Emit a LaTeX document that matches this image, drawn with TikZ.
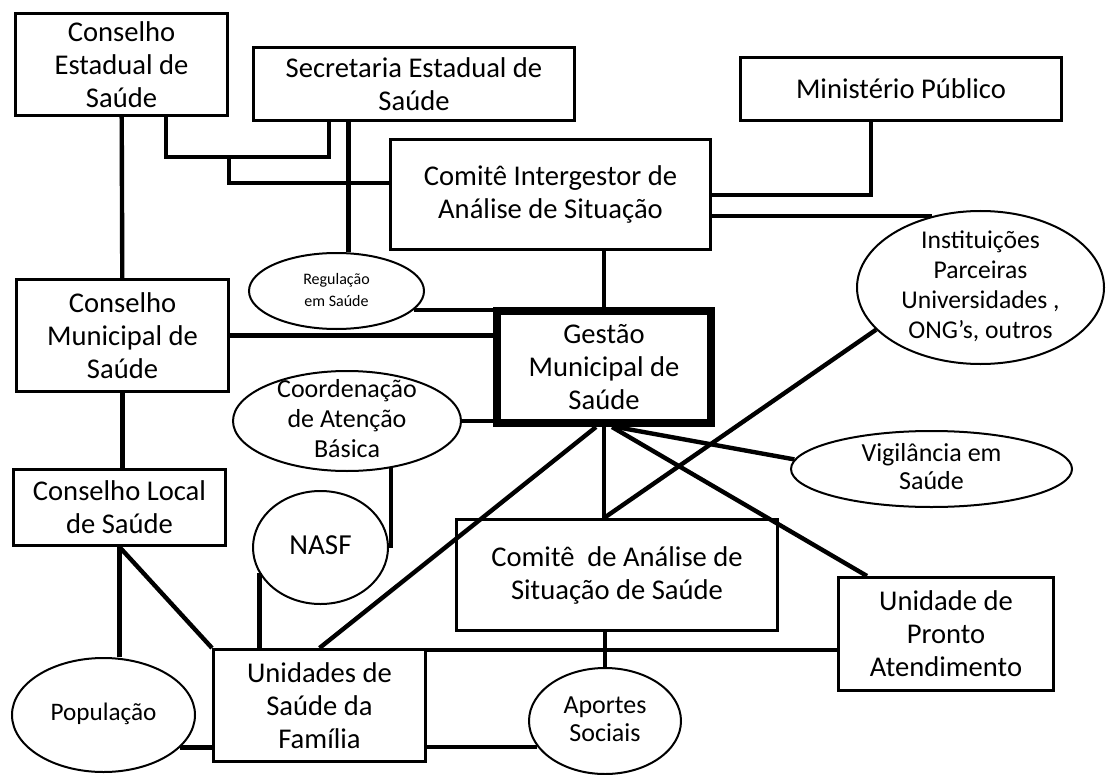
\documentclass[tikz,border=0pt]{standalone}
\usepackage{fontspec}
\setmainfont{Carlito}
\usetikzlibrary{shapes.geometric}

\newcommand{\ovaltxt}[1]{\smash{\raisebox{-0.25em}{\makebox[0pt]{\begin{tabular}{@{}c@{}}#1\end{tabular}}}}}

\begin{document}
\begin{tikzpicture}[x=0.5pt,y=0.5pt]
	    \tikzstyle{every node}+=[inner sep=0pt]
	    \tikzstyle{box}=[draw, line width=1.5pt, rectangle, align=center, font=\fontsize{14.3}{16.5}\selectfont]
	    \tikzstyle{oval}=[draw, line width=1pt, ellipse]
	    \tikzstyle{link}=[line width=2.2pt]
	    \useasboundingbox (0,0) rectangle (1107,-775);
	    \node [box, minimum width=106pt, minimum height=51pt] (ces) at (121.5,-64.5) {Conselho\\Estadual de\\Saúde};
	    \node [box, minimum width=160.5pt, minimum height=36.5pt] (ses) at (414,-84) {Secretaria Estadual de\\Saúde};
	    \node [box, minimum width=160.5pt, minimum height=31.5pt] (mp) at (901,-89) {Ministério Público};
	    \node [box, minimum width=160pt, minimum height=55pt] (cias) at (550.5,-194.5) {Comitê Intergestor de\\Análise de Situação};
	    \node [box, minimum width=106pt, minimum height=56pt] (cms) at (122.5,-335.5) {Conselho\\Municipal de\\Saúde};
	    \node [box, line width=4pt, minimum width=107pt, minimum height=56pt] (gestao) at (604,-367) {Gestão\\Municipal de\\Saúde};
	    \node [box, minimum width=106pt, minimum height=38pt] (cls) at (119.5,-507.5) {Conselho Local\\de Saúde};
	    \node [box, minimum width=160.5pt, minimum height=55.5pt] (cass) at (617,-575) {Comitê~ de Análise de\\Situação de Saúde};
	    \node [box, minimum width=107.5pt, minimum height=56.5pt] (upa) at (946,-634) {Unidade de\\Pronto\\Atendimento};
	    \node [box, minimum width=106pt, minimum height=56pt] (usf) at (319.5,-705.5) {Unidades de\\Saúde da\\Família};
	    \node [oval, minimum width=87.5pt, minimum height=38pt, font=\fontsize{8}{11}\selectfont] (reg) at (336.5,-291) {\ovaltxt{Regulação\\em Saúde}};
	    \node [oval, minimum width=114pt, minimum height=50pt, font=\fontsize{13}{15}\selectfont] (coord) at (347,-421) {\ovaltxt{Coordenação\\de Atenção\\Básica}};
	    \node [oval, minimum width=67.5pt, minimum height=56.5pt, font=\fontsize{14.5}{17}\selectfont] (nasf) at (320.5,-547.5) {\ovaltxt{NASF}};
	    \node [oval, minimum width=123.5pt, minimum height=76.5pt, font=\fontsize{12.8}{15}\selectfont] (inst) at (980.5,-287.5) {\ovaltxt{Instituições\\Parceiras\\Universidades ,\\ONG’s, outros}};
	    \node [oval, minimum width=140.5pt, minimum height=38pt, font=\fontsize{13}{14}\selectfont] (vig) at (931.5,-469) {\ovaltxt{Vigilância em\\Saúde}};
	    \node [oval, minimum width=91.5pt, minimum height=57pt, font=\fontsize{12.6}{14}\selectfont] (pop) at (103.5,-715) {\ovaltxt{População}};
	    \node [oval, minimum width=76pt, minimum height=53pt, font=\fontsize{13}{14}\selectfont] (aport) at (605,-721) {\ovaltxt{Aportes\\Sociais}};
	    \coordinate (ka) at (166,-157);
	    \coordinate (kb) at (329,-157);
	    \coordinate (kc) at (229,-183);
	    \coordinate (kd) at (871,-195);
	    \coordinate (ke) at ([yshift=-1pt]usf.north east);
	    \draw [link] (ces) -- (cms);
	    \draw [link] (cms.south) -- (cms.south |- cls.north);
	    \draw [link] (ka |- ces.south) -- (ka) -- (kb) -- (kb |- ses.south);
	    \draw [link] (kc |- ka) -- (kc) -- (kc -| cias.west);
	    \draw [link] (reg.73) -- (reg.73 |- ses.south);
	    \draw [link] (kd |- mp.south) -- (kd) -- (kd -| cias.east);
	    \draw [link] (inst.124) -- (inst.124 -| cias.east);
	    \draw [link] (gestao.north) -- (gestao.north |- cias.south);
	    \draw [link] (reg.-14) -- (reg.-14 -| gestao.west);
	    \draw [link] (cms.east) -- (cms.east -| gestao.west);
	    \draw [link] (coord.east) -- (coord.east -| gestao.west);
	    \draw [link] (coord.-47) -- (coord.-47 |- nasf.east);
	    \draw [link] (nasf.203) -- (nasf.203 |- usf.north);
	    \draw [link] (cls.south) -- (cls.south |- pop.north);
	    \draw [link] (cls.south) -- (usf.north west);
	    \draw [link] (usf.north) -- ([xshift=-4pt]gestao.south);
	    \draw [link] (gestao.south) -- (gestao.south |- cass.north);
	    \draw [link] (inst.202) -- (gestao.south |- cass.north);
	    \draw [link] ([xshift=4pt]gestao.south) -- ([xshift=15pt]upa.north west);
	    \draw [link] ([xshift=6pt]gestao.south) -- (vig.176);
	    \draw [link] (ke) -- (ke -| upa.west);
	    \draw [link] (cass.south -| aport.north) -- (aport.north);
	    \draw [link] (pop.-23) -- (pop.-23 -| usf.west);
	    \draw [link] (aport.201) -- (aport.201 -| usf.east);
    \end{tikzpicture}
\end{document}
